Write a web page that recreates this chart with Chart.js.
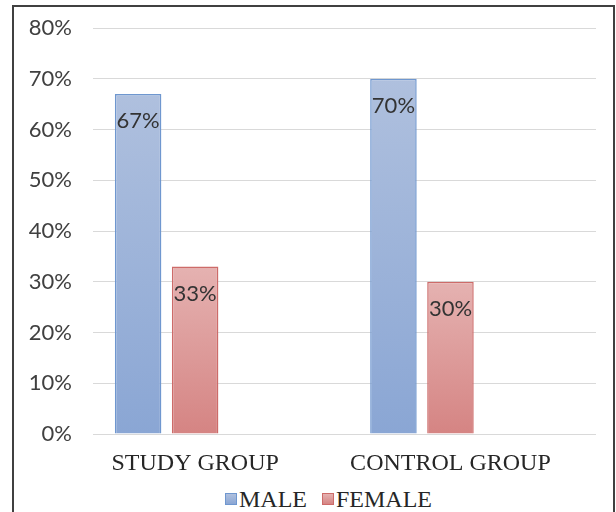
<!DOCTYPE html>
<html>
<head>
<meta charset="utf-8">
<script src="https://cdn.jsdelivr.net/npm/chart.js@4"></script>
<style>
    html, body { margin: 0; padding: 0; background: #fff; }
    body { width: 616px; height: 512px; overflow: hidden; position: relative; }
    #frame { position: absolute; left: 12px; top: 5px; width: 599px; height: 520px; border: 2px solid #404040; background: #fff; }
    #chart { position: absolute; left: 0; top: 0; }
    #legend { position: absolute; left: 211px; top: 478px; display: flex; align-items: center;
              font-family: 'Liberation Serif', 'Times New Roman', serif; font-size: 24px; color: #262626; line-height: 28px; }
    .item { display: flex; align-items: center; margin-right: 15px; }
    .box { width: 10px; height: 10px; margin-right: 2px; border: 1px solid; }
</style>
</head>
<body>
<div id="frame">
    <canvas id="chart" width="599" height="475"></canvas>
    <div id="legend"></div>
</div>
<script>
const categories = ['STUDY GROUP', 'CONTROL GROUP'];
const seriesNames = ['MALE', 'FEMALE'];
const maleValues = [67, 70];
const femaleValues = [33, 30];
const yTicks = [0, 10, 20, 30, 40, 50, 60, 70, 80];

const maleColors = { top: '#afc0de', bottom: '#8aa6d4', border: '#6f97cf' };
const femaleColors = { top: '#e5b2b1', bottom: '#d58483', border: '#cd6b69' };

function toPoints(values) {
    return categories.map((c, i) => ({ x: i, y: values[i] }));
}

// vertical gradient spanning each bar, light at the top
function barGradient(colors) {
    return (context) => {
        const chart = context.chart;
        if (!chart.chartArea || !context.parsed) return colors.bottom;
        const y = chart.scales.y;
        const top = y.getPixelForValue(context.parsed.y);
        const bottom = y.getPixelForValue(0);
        if (!isFinite(top) || top === bottom) return colors.bottom;
        const g = chart.ctx.createLinearGradient(0, top, 0, bottom);
        g.addColorStop(0, colors.top);
        g.addColorStop(1, colors.bottom);
        return g;
    };
}

const barLabels = {
    id: 'barLabels',
    afterDatasetsDraw(chart) {
        const ctx = chart.ctx;
        ctx.save();
        ctx.font = '22px Lato';
        ctx.fillStyle = '#333333';
        ctx.textAlign = 'center';
        ctx.textBaseline = 'middle';
        [0, 1].forEach(di => {
            const meta = chart.getDatasetMeta(di);
            meta.data.forEach((bar, i) => {
                const v = chart.data.datasets[di].data[i].y;
                ctx.fillText(v + '%', bar.x, bar.y + 27);
            });
        });
        ctx.restore();
    }
};

const chart = new Chart(document.getElementById('chart'), {
    type: 'bar',
    data: {
        datasets: [{
            label: seriesNames[0],
            data: toPoints(maleValues),
            backgroundColor: barGradient(maleColors),
            borderColor: maleColors.border,
            borderWidth: 1.5
        }, {
            label: seriesNames[1],
            data: toPoints(femaleValues),
            backgroundColor: barGradient(femaleColors),
            borderColor: femaleColors.border,
            borderWidth: 1.5
        }, {
            label: '',
            data: categories.map((c, i) => ({ x: i, y: null })),
            backgroundColor: 'rgba(0,0,0,0)',
            borderWidth: 0
        }]
    },
    options: {
        responsive: false,
        animation: false,
        categoryPercentage: 0.67,
        barPercentage: 0.816,
        layout: { autoPadding: false, padding: { left: 0, right: 17, top: 21, bottom: 0 } },
        plugins: {
            legend: { display: false },
            tooltip: { enabled: false }
        },
        scales: {
            x: {
                type: 'linear',
                offset: false,
                min: -0.4,
                max: 1.57,
                afterBuildTicks: (scale) => { scale.ticks = categories.map((c, i) => ({ value: i })); },
                afterFit: (scale) => {
                    scale.height = 48;
                    scale.paddingLeft = 0; scale.paddingRight = 0;
                },
                grid: { display: false },
                border: { display: false },
                ticks: {
                    callback: (v) => categories[v],
                    autoSkip: false,
                    maxRotation: 0,
                    padding: 7,
                    color: '#262626',
                    font: { family: "'Liberation Serif', 'Times New Roman', serif", size: 24 }
                }
            },
            y: {
                min: 0,
                max: 80,
                afterBuildTicks: (scale) => { scale.ticks = yTicks.map(v => ({ value: v })); },
                afterFit: (scale) => {
                    scale.width = 79;
                    scale.paddingTop = 0; scale.paddingBottom = 0;
                },
                grid: { color: '#d9d9d9', lineWidth: 1, drawTicks: false },
                border: { display: false },
                ticks: {
                    callback: (v) => v + '%',
                    padding: 21,
                    color: '#404040',
                    font: { family: 'Lato', size: 22 }
                }
            }
        }
    },
    plugins: [barLabels]
});

const legend = document.getElementById('legend');
[maleColors, femaleColors].forEach((colors, i) => {
    const item = document.createElement('div');
    item.className = 'item';
    item.innerHTML = `<span class="box" style="background:linear-gradient(${colors.top}, ${colors.bottom});border-color:${colors.border}"></span><span>${seriesNames[i]}</span>`;
    legend.appendChild(item);
});
</script>
</body>
</html>
